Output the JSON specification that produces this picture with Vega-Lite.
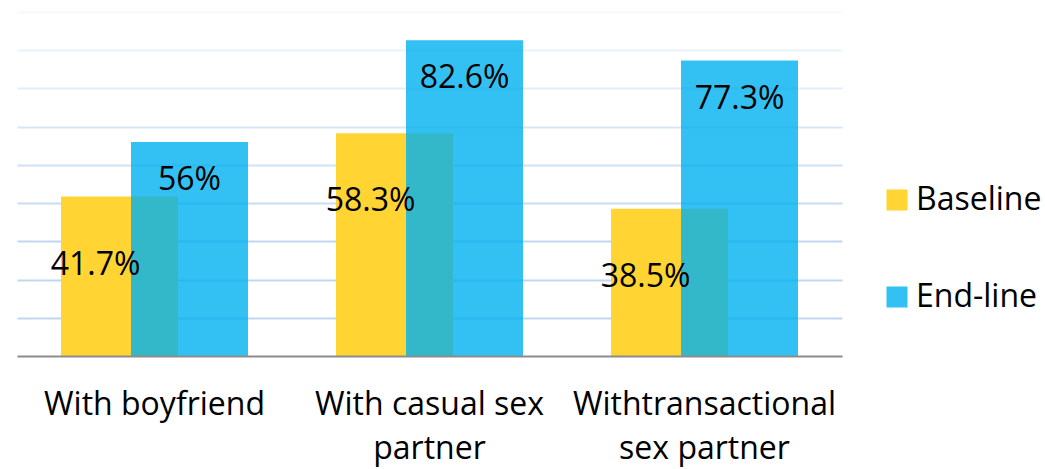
{
  "$schema": "https://vega.github.io/schema/vega-lite/v6.json",
  "width": 825,
  "height": 344,
  "autosize": {"type": "none"},
  "padding": {"left": 17, "top": 12, "right": 203, "bottom": 113},
  "background": "white",
  "config": {"view": {"stroke": null}, "font": "Open Sans"},
  "data": {
    "values": [
      {"group": "With boyfriend", "series": "Baseline", "value": 41.7, "label": "41.7%"},
      {"group": "With casual sex partner", "series": "Baseline", "value": 58.3, "label": "58.3%"},
      {"group": "Withtransactional sex partner", "series": "Baseline", "value": 38.5, "label": "38.5%"},
      {"group": "With boyfriend", "series": "End-line", "value": 56, "label": "56%"},
      {"group": "With casual sex partner", "series": "End-line", "value": 82.6, "label": "82.6%"},
      {"group": "Withtransactional sex partner", "series": "End-line", "value": 77.3, "label": "77.3%"}
    ]
  },
  "encoding": {
    "x": {
      "field": "group", "type": "nominal", "sort": null,
      "scale": {"paddingInner": 0, "paddingOuter": 0},
      "axis": {
        "title": null, "labelAngle": 0, "ticks": false, "domain": true,
        "domainColor": "#8c8c8c", "domainWidth": 2, "labelFont": "Open Sans",
        "labelFontSize": 32, "labelColor": "#000000", "labelPadding": 33,
        "labelLimit": 0, "labelLineHeight": 44, "zindex": 1,
        "labelExpr": "datum.label == 'With casual sex partner' ? ['With casual sex', 'partner'] : datum.label == 'Withtransactional sex partner' ? ['Withtransactional', 'sex partner'] : datum.label"
      }
    },
    "y": {
      "field": "value", "type": "quantitative",
      "scale": {"domain": [0, 90], "nice": false},
      "axis": {
        "title": null, "labels": false, "ticks": false, "domain": false,
        "grid": true, "values": [10, 20, 30, 40, 50, 60, 70, 80, 90],
        "gridColor": "#bcd6ee", "gridWidth": 2, "zindex": 0,
        "gridOpacity": {
          "condition": [
            {"test": "datum.value >= 90", "value": 0.15},
            {"test": "datum.value >= 80", "value": 0.3},
            {"test": "datum.value >= 70", "value": 0.45},
            {"test": "datum.value >= 60", "value": 0.6},
            {"test": "datum.value >= 50", "value": 0.72},
            {"test": "datum.value >= 40", "value": 0.82}
          ],
          "value": 0.95
        }
      }
    }
  },
  "layer": [
    {
      "transform": [{"filter": "datum.series == 'Baseline'"}],
      "mark": {"type": "bar", "width": 117, "xOffset": -35},
      "encoding": {
        "color": {
          "field": "series", "type": "nominal",
          "scale": {"domain": ["Baseline", "End-line"], "range": ["#FFD433", "rgba(0,176,240,0.8)"]},
          "legend": {
            "title": null, "orient": "none", "legendX": 864, "legendY": 172,
            "symbolType": "square", "symbolSize": 441, "symbolStrokeWidth": 0,
            "labelFont": "Open Sans", "labelFontSize": 32, "labelColor": "#000000",
            "labelOffset": 3, "rowPadding": 65, "padding": 0, "labelLimit": 0
          }
        }
      }
    },
    {
      "transform": [{"filter": "datum.series == 'End-line'"}],
      "mark": {"type": "bar", "width": 117, "xOffset": 35},
      "encoding": {"color": {"field": "series", "type": "nominal"}}
    },
    {
      "transform": [{"filter": "datum.series == 'Baseline'"}],
      "mark": {"type": "text", "font": "Open Sans", "fontSize": 32, "color": "#000000", "baseline": "alphabetic", "align": "center", "xOffset": -59, "dy": 78},
      "encoding": {"text": {"field": "label"}}
    },
    {
      "transform": [{"filter": "datum.series == 'End-line'"}],
      "mark": {"type": "text", "font": "Open Sans", "fontSize": 32, "color": "#000000", "baseline": "alphabetic", "align": "center", "xOffset": 35, "dy": 48},
      "encoding": {"text": {"field": "label"}}
    }
  ]
}
